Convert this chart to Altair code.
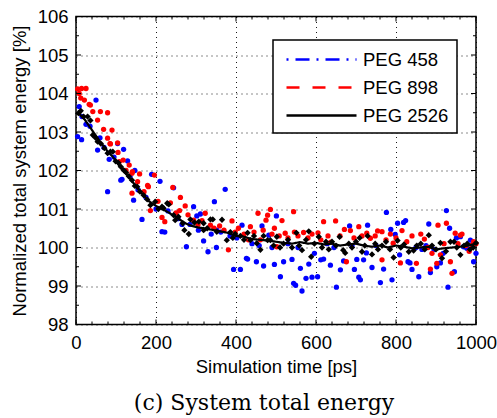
import altair as alt
import pandas as pd

# ---------------- data ----------------
blue_x = [4, 8, 14, 15, 25, 35, 50, 54, 60, 70, 79, 83, 95, 104, 112, 115, 119, 129, 135, 144,
          147, 155, 165, 175, 189, 200, 210, 215, 222, 230, 244, 255, 265, 276, 285, 294, 302, 306, 311, 319,
          330, 338, 346, 351, 352, 362, 373, 385, 394, 402, 411, 415, 426, 429, 440, 451, 458, 465, 469, 482,
          490, 496, 501, 511, 519, 530, 540, 544, 549, 555, 561, 565, 575, 582, 590, 596, 604, 612, 619, 628,
          636, 645, 651, 661, 669, 684, 690, 696, 702, 707, 711, 719, 726, 729, 740, 750, 761, 769, 776, 787,
          790, 798, 804, 809, 819, 824, 830, 835, 840, 850, 857, 865, 875, 882, 886, 895, 902, 911, 918, 926,
          930, 934, 946, 951, 961, 969, 977, 986, 994, 1000]
blue_y = [102.88, 103.66, 102.80, 103.40, 103.20, 103.15, 103.83, 102.53, 102.85, 102.60, 101.45, 102.29, 102.35, 102.70, 101.75, 101.77, 102.55, 102.25, 101.85, 101.23,
          102.00, 101.50, 100.73, 101.30, 101.90, 101.00, 101.72, 100.41, 100.40, 100.95, 101.55, 100.75, 100.60, 100.02, 100.60, 101.06, 100.82, 100.45, 100.87, 100.17,
          99.89, 100.35, 101.19, 100.00, 100.45, 100.40, 101.51, 100.30, 99.43, 100.25, 99.43, 100.58, 99.72, 99.70, 100.10, 99.63, 100.05, 100.56, 99.52, 100.32,
          100.00, 99.56, 100.82, 99.24, 99.63, 100.10, 99.69, 99.07, 99.02, 100.00, 99.46, 98.87, 99.20, 99.57, 99.23, 99.85, 99.24, 99.68, 99.70, 100.10,
          99.54, 100.00, 98.97, 99.42, 99.65, 100.56, 100.05, 99.43, 99.69, 99.23, 99.16, 99.68, 99.86, 100.58, 99.48, 100.05, 99.09, 99.44, 100.91, 100.47,
          99.16, 100.34, 100.63, 99.81, 100.65, 100.70, 99.63, 99.60, 99.43, 100.00, 99.24, 99.95, 100.05, 100.61, 99.35, 99.95, 99.50, 99.60, 99.85, 100.96,
          98.97, 100.50, 99.37, 100.25, 100.28, 100.02, 99.98, 100.19, 99.63, 99.85]

red_x = [4, 8, 12, 14, 21, 25, 33, 36, 42, 54, 61, 69, 79, 79, 85, 86, 90, 104, 105, 108,
         118, 125, 133, 140, 140, 141, 154, 159, 170, 179, 181, 186, 196, 205, 215, 222, 236, 242, 250, 259,
         261, 273, 280, 294, 305, 315, 323, 336, 345, 359, 370, 381, 390, 398, 406, 420, 431, 436, 445, 455,
         461, 468, 475, 479, 486, 490, 496, 502, 508, 515, 523, 530, 544, 546, 555, 569, 580, 590, 605, 612,
         619, 630, 637, 649, 660, 671, 676, 686, 695, 707, 715, 727, 736, 748, 754, 765, 765, 775, 786, 793,
         800, 811, 815, 827, 840, 851, 862, 871, 880, 886, 890, 902, 905, 911, 920, 926, 936, 940, 948, 955,
         961, 965, 975, 983, 990, 994, 1000]
red_y = [104.12, 104.00, 103.88, 104.13, 103.83, 104.13, 103.72, 103.70, 103.53, 103.31, 103.53, 103.07, 103.50, 102.84, 102.70, 102.69, 103.05, 102.72, 102.47, 102.23,
         102.27, 102.00, 102.14, 101.93, 101.41, 101.97, 101.71, 101.91, 101.45, 101.61, 101.58, 100.96, 101.88, 101.20, 100.78, 100.67, 101.16, 101.56, 100.90, 100.96,
         101.30, 101.08, 100.85, 100.71, 100.60, 100.70, 100.89, 100.58, 100.50, 100.56, 100.45, 99.94, 100.69, 100.40, 100.50, 100.35, 100.20, 100.54, 100.40, 100.89,
         100.20, 100.45, 100.71, 100.84, 100.99, 100.35, 100.50, 100.02, 100.30, 100.70, 100.37, 100.25, 100.93, 100.40, 100.30, 100.39, 100.25, 100.35, 100.38, 100.20,
         100.67, 100.30, 100.14, 100.69, 100.30, 100.47, 99.63, 100.44, 100.25, 100.54, 100.30, 100.37, 100.24, 100.30, 100.43, 99.68, 100.41, 100.20, 100.35, 100.11,
         100.25, 99.60, 100.44, 100.15, 100.30, 99.59, 100.35, 100.22, 100.00, 99.44, 99.85, 99.59, 100.58, 99.81, 100.10, 100.63, 99.63, 99.33, 100.37, 100.10,
         100.32, 100.35, 100.05, 99.90, 100.06, 100.15, 100.10]

black_x = [6, 12, 19, 29, 36, 42, 49, 54, 62, 71, 79, 86, 92, 99, 106, 112, 119, 125, 132, 140,
           147, 153, 160, 169, 178, 186, 198, 206, 215, 219, 228, 232, 244, 248, 256, 267, 271, 282, 286, 296,
           307, 319, 319, 328, 336, 342, 352, 365, 377, 386, 392, 398, 411, 420, 429, 436, 445, 452, 461, 469,
           479, 486, 494, 502, 510, 519, 530, 540, 551, 558, 565, 575, 582, 588, 596, 607, 615, 625, 632, 640,
           650, 659, 668, 673, 682, 690, 700, 709, 715, 722, 729, 740, 748, 755, 765, 775, 785, 794, 804, 812,
           820, 832, 844, 852, 862, 872, 882, 890, 900, 911, 915, 925, 936, 945, 952, 961, 970, 978, 985, 993, 1000]
black_y = [103.49, 103.55, 103.40, 103.40, 103.30, 102.92, 102.85, 102.75, 102.70, 102.58, 102.45, 102.49, 102.49, 102.24, 102.20, 102.10, 102.01, 101.95, 101.85, 101.75,
           101.60, 101.58, 101.45, 101.36, 101.25, 101.10, 101.19, 101.00, 101.06, 101.02, 101.15, 101.12, 100.84, 100.71, 100.80, 100.63, 100.45, 100.35, 100.73, 100.65,
           100.67, 100.63, 100.45, 100.50, 100.73, 100.73, 100.41, 100.72, 100.19, 100.40, 100.25, 100.35, 100.30, 100.20, 100.38, 100.19, 100.30, 100.11, 99.94, 100.30,
           100.19, 100.19, 100.05, 100.28, 100.00, 100.10, 100.20, 100.00, 100.38, 100.05, 99.93, 100.20, 100.42, 99.76, 100.10, 100.28, 100.00, 100.15, 99.95, 100.15,
           100.05, 100.28, 99.93, 99.86, 100.10, 100.00, 100.15, 100.25, 99.89, 100.05, 100.30, 99.82, 100.10, 99.95, 100.05, 100.15, 99.95, 99.74, 100.18, 100.00,
           100.08, 99.89, 99.92, 100.05, 100.10, 99.95, 100.32, 100.05, 99.95, 100.12, 99.72, 99.90, 100.15, 100.15, 100.00, 99.81, 100.05, 100.10, 99.95, 100.00, 100.12]

line_x = [0, 10, 20, 30, 40, 50, 60, 70, 80, 90, 100, 110, 120, 130, 140, 150, 160, 170, 180, 190,
          200, 215, 230, 245, 260, 275, 290, 305, 320, 340, 360, 380, 400, 420, 440, 460, 480, 500, 520, 540,
          560, 580, 600, 620, 640, 660, 680, 700, 720, 740, 760, 780, 800, 820, 840, 860, 880, 900, 920, 940,
          960, 980, 1000]
line_y = [103.50, 103.45, 103.35, 103.20, 103.05, 102.90, 102.75, 102.62, 102.48, 102.38, 102.25, 102.10, 101.98, 101.85, 101.72, 101.60, 101.45, 101.35, 101.22, 101.15,
          101.08, 101.00, 100.92, 100.82, 100.72, 100.62, 100.56, 100.52, 100.50, 100.46, 100.42, 100.38, 100.30, 100.28, 100.22, 100.20, 100.18, 100.15, 100.12, 100.10,
          100.14, 100.10, 100.12, 100.08, 100.10, 100.05, 100.08, 100.10, 100.05, 100.02, 100.05, 100.00, 100.05, 100.02, 99.98, 100.00, 100.02, 99.95, 99.98, 100.00,
          100.02, 100.05, 100.10]

series_names = ["PEG 458", "PEG 898", "PEG 2526"]
series_colors = ["#0000ff", "#ff0000", "#000000"]
series_dashes = [[2, 7, 14, 7], [13, 13], [1, 0]]

x_major = [0, 200, 400, 600, 800, 1000]
x_minor = [40, 80, 120, 160, 240, 280, 320, 360, 440, 480, 520, 560, 640, 680, 720, 760, 840, 880, 920, 960]
y_major = [98, 99, 100, 101, 102, 103, 104, 105, 106]
y_minor = [98.5, 99.5, 100.5, 101.5, 102.5, 103.5, 104.5, 105.5]

# ---------------- chart ----------------
W, H = 400, 308
FONT = "Liberation Sans"
FS = 18.5

xs = alt.Scale(domain=[0, 1000], nice=False, zero=False)
ys = alt.Scale(domain=[98, 106], nice=False, zero=False)

x_axis = alt.Axis(values=x_major, title="Simulation time [ps]", grid=True, ticks=False, domain=False,
                  labelPadding=9, titlePadding=5, format="d", labelFlush=False)
y_axis = alt.Axis(values=y_major, title="Normalized total system energy [%]", grid=True, ticks=False,
                  domain=False, labelPadding=8, titlePadding=8, format="d", labelFlush=False)

X = alt.X("x:Q", scale=xs, axis=x_axis)
Y = alt.Y("y:Q", scale=ys, axis=y_axis)

blue_df = pd.DataFrame({"x": blue_x, "y": blue_y})
red_df = pd.DataFrame({"x": red_x, "y": red_y})
black_df = pd.DataFrame({"x": black_x, "y": black_y})
line_df = pd.DataFrame({"x": line_x, "y": line_y, "series": "PEG 2526"})

blue_pts = alt.Chart(blue_df).mark_circle(size=28, color="#0000ff", opacity=1).encode(x=X, y=Y)
red_pts = alt.Chart(red_df).mark_circle(size=28, color="#ff0000", opacity=1).encode(x=X, y=Y)
black_pts = alt.Chart(black_df).mark_point(shape="diamond", size=40, filled=True, color="#000000",
                                            opacity=1).encode(x=X, y=Y)

leg = alt.Legend(title=None, orient="none", legendX=197, legendY=23.5, fillColor="white",
                 strokeColor="black", padding=8, labelFontSize=FS, labelFont=FONT, labelColor="black",
                 symbolType="M-3.5,0H3.5", symbolSize=400, symbolStrokeWidth=2.5,
                 symbolOffset=29, labelOffset=30, rowPadding=7)
black_line = alt.Chart(line_df).mark_line(strokeWidth=2.2).encode(
    x=X, y=Y,
    color=alt.Color("series:N", scale=alt.Scale(domain=series_names, range=series_colors), legend=leg),
    strokeDash=alt.StrokeDash("series:N", scale=alt.Scale(domain=series_names, range=series_dashes), legend=leg),
)

xmaj_df = pd.DataFrame({"x": x_major})
xmin_df = pd.DataFrame({"x": x_minor})
ymaj_df = pd.DataFrame({"y": y_major})
ymin_df = pd.DataFrame({"y": y_minor})

def xticks(df, ln):
    bot = alt.Chart(df).mark_rule(color="black", strokeWidth=1).encode(x=X, y=alt.value(H), y2=alt.value(H - ln))
    top = alt.Chart(df).mark_rule(color="black", strokeWidth=1).encode(x=X, y=alt.value(0), y2=alt.value(ln))
    return [bot, top]

def yticks(df, ln):
    lef = alt.Chart(df).mark_rule(color="black", strokeWidth=1).encode(y=Y, x=alt.value(0), x2=alt.value(ln))
    rig = alt.Chart(df).mark_rule(color="black", strokeWidth=1).encode(y=Y, x=alt.value(W), x2=alt.value(W - ln))
    return [lef, rig]

layers = [blue_pts, red_pts, black_pts, black_line] + xticks(xmaj_df, 5) + xticks(xmin_df, 3) \
    + yticks(ymaj_df, 5) + yticks(ymin_df, 3)

chart = alt.layer(*layers).properties(
    width=W, height=H,
    autosize=alt.AutoSizeParams(type="none"),
    padding={"left": 76, "top": 16.5, "right": 21, "bottom": 93.5},
    title=alt.TitleParams(text="(c) System total energy", orient="bottom", anchor="middle",
                          font="DejaVu Serif", fontSize=22, fontWeight="normal", color="black",
                          offset=17, dx=-12),
).configure_view(stroke="black", strokeWidth=1.5).configure_axis(
    labelFont=FONT, titleFont=FONT, labelFontSize=FS, titleFontSize=FS, labelColor="black",
    titleColor="black", titleFontWeight="normal", gridColor="#000000", gridDash=[1, 4], gridOpacity=0.9,
    gridWidth=1,
).configure_legend(strokeWidth=1.5)

chart.save("out.html", embed_options={"renderer": "svg", "actions": False})
